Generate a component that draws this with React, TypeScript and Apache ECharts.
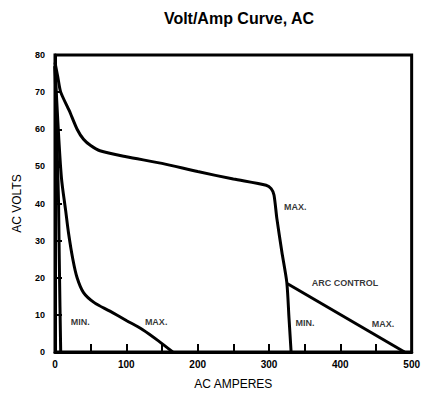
import React, { useEffect, useRef } from "react";
import * as echarts from "echarts";

const xTicks = [0, 100, 200, 300, 400, 500];
const yTicks = [0, 10, 20, 30, 40, 50, 60, 70, 80];

// High range MAX curve (amps, volts)
const highMax: [number, number][] = [
  [0, 78], [4, 74], [8, 70], [20, 65], [31, 60], [40, 57.3], [50, 55.6], [63, 54.2],
  [100, 52.6], [150, 50.8], [200, 48.6], [250, 46.6], [296, 44.9], [303, 44],
  [307, 42.3], [311, 36], [318, 27], [325, 18.7], [328, 9.3], [331, 0],
];
// Arc control MAX line
const arcControl: [number, number][] = [
  [326, 18.4], [490, 0],
];
// Low range MIN curve
const lowMin: [number, number][] = [
  [0, 77], [3, 55], [5, 40], [6, 25], [7, 12], [8, 0],
];
// Low range MAX curve
const lowMax: [number, number][] = [
  [0, 77], [4, 62], [9, 47], [15, 38], [19, 32], [25, 25], [31, 20], [40, 16],
  [55, 13.3], [77, 11], [100, 8.5], [123, 6], [145, 3], [165, 0],
];

const annotations: { text: string; at: [number, number] }[] = [
  { text: "MAX.", at: [321, 39] },
  { text: "ARC CONTROL", at: [360, 18.7] },
  { text: "MIN.", at: [337, 7.8] },
  { text: "MAX.", at: [444, 7.6] },
  { text: "MIN.", at: [22, 8] },
  { text: "MAX.", at: [126, 8] },
];

export default function App() {
  const ref = useRef<HTMLDivElement>(null);
  useEffect(() => {
    if (!ref.current) return;
    const chart = echarts.init(ref.current, null, { renderer: "svg" });
    const lineStyle = { color: "#000", width: 3 };
    const mk = (data: [number, number][], smooth: number) => ({
      type: "line" as const,
      data,
      showSymbol: false,
      symbol: "none",
      smooth,
      lineStyle,
      silent: true,
      z: 3,
    });
    chart.setOption({
      animation: false,
      backgroundColor: "#fff",
      title: {
        text: "Volt/Amp Curve, AC",
        left: 234,
        textAlign: "center",
        top: 5,
        textStyle: {
          fontFamily: "Liberation Sans, Arial, sans-serif",
          fontWeight: "bold",
          fontSize: 16,
          color: "#000",
        },
      },
      grid: {
        left: 55,
        top: 55,
        right: 10,
        bottom: 40,
        show: true,
        borderColor: "#000",
        borderWidth: 3,
      },
      xAxis: {
        type: "value",
        min: 0,
        max: 500,
        interval: 50,
        name: "AC AMPERES",
        nameLocation: "middle",
        nameGap: 26,
        nameTextStyle: { color: "#000", fontSize: 12, fontFamily: "Liberation Sans, Arial, sans-serif" },
        axisLine: { show: true, lineStyle: { color: "#000", width: 3 } },
        axisTick: { show: true, inside: true, length: 8, lineStyle: { color: "#000", width: 2 } },
        splitLine: { show: false },
        axisLabel: {
          color: "#000",
          fontSize: 10,
          fontWeight: "bold",
          margin: 7,
          fontFamily: "Liberation Sans, Arial, sans-serif",
          formatter: (v: number) => (xTicks.includes(v) ? String(v) : ""),
        },
      },
      yAxis: {
        type: "value",
        min: 0,
        max: 80,
        interval: 10,
        name: "AC VOLTS",
        nameLocation: "middle",
        nameGap: 32,
        nameRotate: 90,
        nameTextStyle: { color: "#000", fontSize: 12, fontFamily: "Liberation Sans, Arial, sans-serif" },
        axisLine: { show: true, lineStyle: { color: "#000", width: 3 } },
        axisTick: { show: true, inside: true, length: 7, lineStyle: { color: "#000", width: 2 } },
        splitLine: { show: false },
        axisLabel: {
          color: "#000",
          fontSize: 9,
          fontWeight: "bold",
          margin: 10,
          fontFamily: "Liberation Sans, Arial, sans-serif",
          formatter: (v: number) => (yTicks.includes(v) ? String(v) : ""),
        },
      },
      series: [
        mk(highMax, 0.25),
        mk(arcControl, 0),
        mk(lowMin, 0),
        mk(lowMax, 0.3),
        {
          type: "scatter",
          data: annotations.map((a) => ({ value: a.at, name: a.text })),
          symbolSize: 0,
          silent: true,
          label: {
            show: true,
            position: "right",
            distance: 0,
            formatter: (p: any) => p.name,
            color: "#000",
            fontSize: 9,
            fontWeight: "bold",
            fontFamily: "Liberation Sans Narrow, Liberation Sans, Arial, sans-serif",
          },
          z: 4,
        },
      ],
    });
    return () => chart.dispose();
  }, []);
  return <div ref={ref} style={{ width: 423, height: 395, position: "absolute", left: 0, top: 0 }} />;
}
